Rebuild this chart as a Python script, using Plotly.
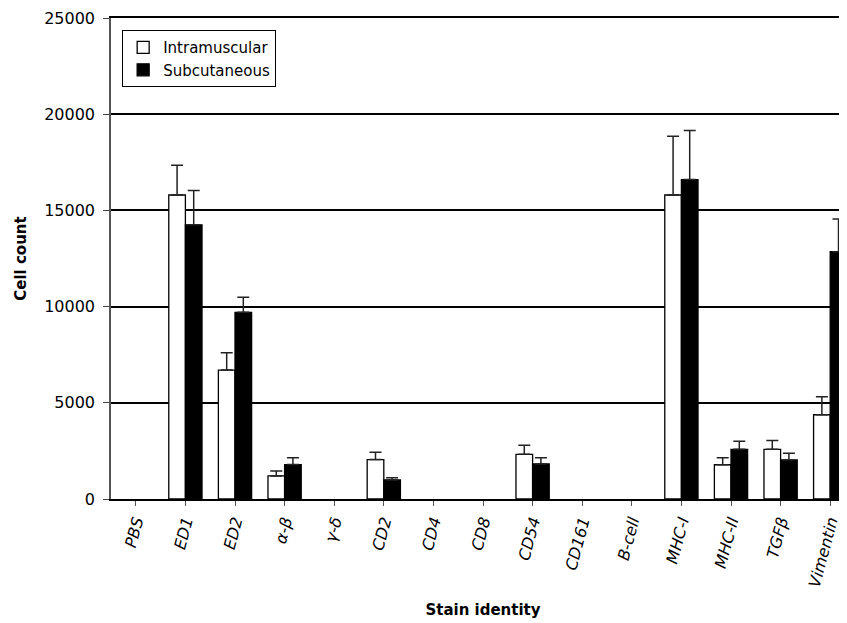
import plotly.graph_objects as go

categories = ["PBS", "ED1", "ED2", "α-β", "γ-δ", "CD2", "CD4", "CD8", "CD54",
              "CD161", "B-cell", "MHC-I", "MHC-II", "TGFβ", "Vimentin"]
intramuscular = [None, 15800, 6700, 1200, None, 2050, None, None, 2320, None, None, 15800, 1780, 2580, 4380]
intramuscular_err = [None, 1550, 900, 250, None, 380, None, None, 480, None, None, 3050, 360, 460, 930]
subcutaneous = [None, 14250, 9700, 1790, None, 990, None, None, 1820, None, None, 16600, 2580, 2030, 12850]
subcutaneous_err = [None, 1780, 780, 350, None, 110, None, None, 330, None, None, 2550, 420, 350, 1700]
y_ticks = [0, 5000, 10000, 15000, 20000, 25000]

x_idx = list(range(len(categories)))
zeros = [0] * len(categories)

FONT = "DejaVu Sans, Verdana, sans-serif"

fig = go.Figure()
fig.add_trace(go.Bar(
    x=x_idx, y=intramuscular, name="Intramuscular",
    marker=dict(color="white", line=dict(color="black", width=1.3)),
    error_y=dict(type="data", array=intramuscular_err, arrayminus=zeros, symmetric=False,
                 color="#222222", thickness=1.5, width=6),
))
fig.add_trace(go.Bar(
    x=x_idx, y=subcutaneous, name="Subcutaneous",
    marker=dict(color="black", line=dict(color="black", width=1.3)),
    error_y=dict(type="data", array=subcutaneous_err, arrayminus=zeros, symmetric=False,
                 color="#222222", thickness=1.5, width=6),
))

fig.update_layout(
    width=847, height=623,
    margin=dict(l=103, r=0, t=10, b=132),
    paper_bgcolor="white", plot_bgcolor="white",
    font=dict(family=FONT, size=15, color="black"),
    barmode="group", bargap=0.33, bargroupgap=0,
    showlegend=True,
    legend=dict(x=0.015, y=0.975, xanchor="left", yanchor="top",
                bordercolor="black", borderwidth=1, bgcolor="white",
                font=dict(family=FONT, size=15), tracegroupgap=0,
                itemwidth=30),
    xaxis=dict(
        tickmode="array", tickvals=x_idx,
        ticktext=["<i>%s</i>" % c for c in categories],
        range=[-0.5, len(categories) - 0.5], tickangle=-75,
        ticks="outside", ticklen=5, tickcolor="#555555", tickson="boundaries",
        showline=True, linecolor="black", linewidth=1.5, mirror=True,
        showgrid=False, zeroline=False, automargin=False,
        tickfont=dict(family=FONT, size=16),
        title=dict(text="<b>Stain identity</b>", font=dict(family=FONT, size=15), standoff=16),
    ),
    yaxis=dict(
        range=[0, 25000], tickmode="array", tickvals=y_ticks,
        ticktext=[str(v) for v in y_ticks],
        ticks="outside", ticklen=6, tickcolor="#444444",
        showline=True, linecolor="#555555", linewidth=1.5,
        showgrid=True, gridcolor="black", gridwidth=1.5,
        zeroline=False, automargin=False, ticklabelstandoff=5,
        ticklabeloverflow="allow",
        tickfont=dict(family=FONT, size=16),
        title=dict(text="<b>Cell count</b>", font=dict(family=FONT, size=15), standoff=14),
    ),
)

fig.write_html("out.html")
